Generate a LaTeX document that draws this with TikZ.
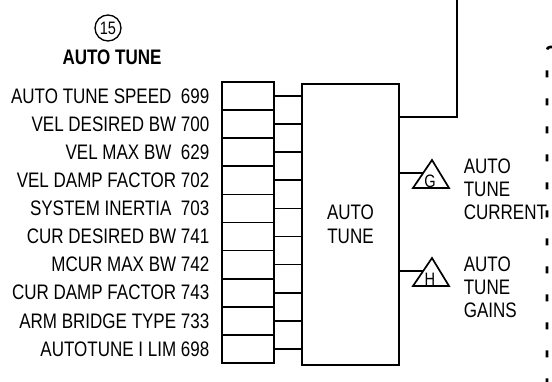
\documentclass[tikz,border=0pt]{standalone}
\usepackage{fontspec}
\setmainfont[FakeStretch=0.81]{Liberation Sans}
\usetikzlibrary{positioning}

\begin{document}
\begin{tikzpicture}[x=1pt,y=-1pt,line width=1.7pt,
  pbox/.style={draw,minimum width=52pt,minimum height=28.1pt,inner sep=0pt},
  plbl/.style={font=\fontsize{21}{23}\selectfont,inner sep=0pt,anchor=east},
  txt/.style={font=\fontsize{21}{23}\selectfont,inner sep=0pt,align=left},
  dots/.style={line width=2.6pt,dash pattern=on 7pt off 21pt,rounded corners=3pt}]
\useasboundingbox (0,0) rectangle (552,382);
\node[draw,circle,minimum size=26pt,inner sep=0pt,line width=1.3pt,font=\fontsize{18}{18}\selectfont] (num) at (108,28) {15};
\node[font=\bfseries\fontsize{21}{21}\selectfont,inner sep=0pt] (title) at (112,57) {AUTO TUNE};
\node[draw,minimum width=97pt,minimum height=281pt,inner sep=0pt,align=center,
  font=\fontsize{21}{24}\selectfont] (blk) at (350.5,224.5) {AUTO\\TUNE};
\foreach \lbl [count=\i] in {AUTO TUNE SPEED\ \ 699,VEL DESIRED BW 700,VEL MAX BW\ \ 629,
  VEL DAMP FACTOR 702,SYSTEM INERTIA\ \ 703,CUR DESIRED BW 741,MCUR MAX BW 742,
  CUR DAMP FACTOR 743,ARM BRIDGE TYPE 733,AUTOTUNE I LIM 698}{
  \node[pbox] (p\i) at (248,{96.05+28.1*(\i-1)}) {};
  \node[plbl,left=11pt of p\i.west] (l\i) {\lbl};
  \draw (p\i.east) -- (p\i.east -| blk.west);
}
% output to top
\coordinate (outtop) at (457,0);
\draw (blk.east |- 0,117) -| (outtop);
% connectors G and H
\foreach \nm/\yy in {G/173,H/271}{
  \draw (413,\yy+15) -- (432,\yy-13) -- (449,\yy+15) -- cycle;
  \coordinate (t\nm) at (423,\yy);
  \node[font=\fontsize{18}{18}\selectfont,inner sep=0pt] (c\nm) at (430,\yy+8) {\nm};
  \draw (blk.east |- t\nm) -- (t\nm);
}
\node[txt,anchor=north west] (lblG) at (463,158) {AUTO\\TUNE\\CURRENT};
\node[txt,anchor=north west] (lblH) at (463,256) {AUTO\\TUNE\\GAINS};
% dotted border
\coordinate (dtop) at (553,47);
\draw[dots] (dtop) -- (547,47) -- (547,382);
\end{tikzpicture}
\end{document}
